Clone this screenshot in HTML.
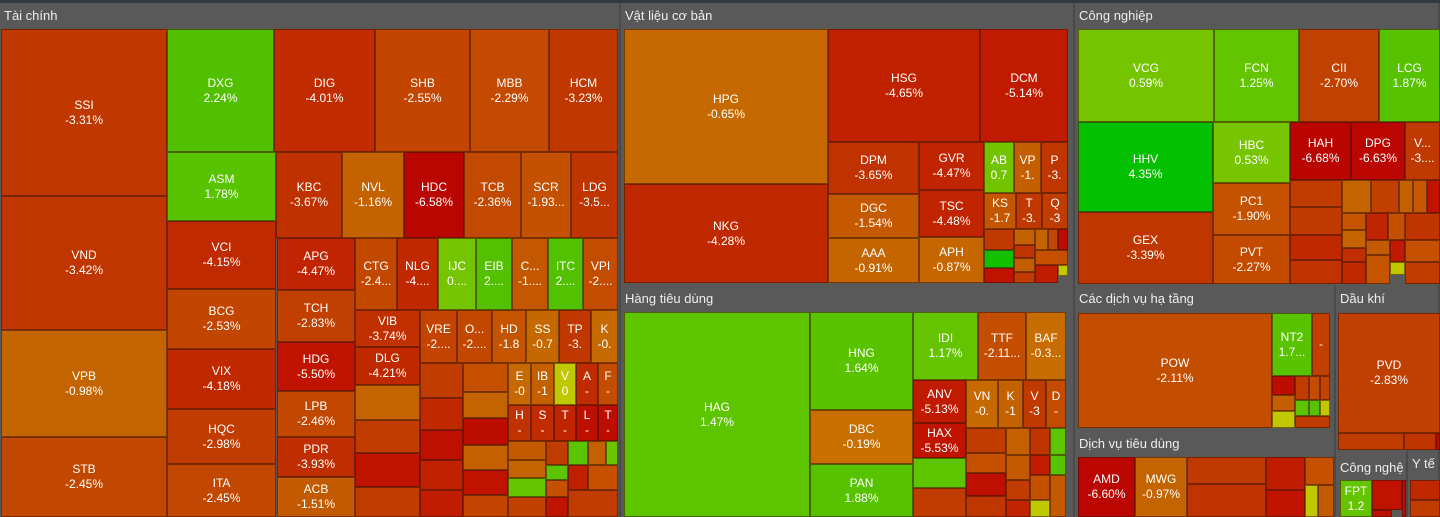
<!DOCTYPE html>
<html><head><meta charset="utf-8">
<style>
html,body{margin:0;padding:0}
body{width:1440px;height:517px;position:relative;overflow:hidden;background:#595959;font-family:"Liberation Sans",sans-serif}
#topbar{position:absolute;left:0;top:0;width:1440px;height:3px;background:#2f3a44}
.sec{position:absolute;background:#595959;border-right:2px solid #4a4a4a;box-sizing:border-box}
.hdr{position:absolute;color:#eee;font-size:13px;line-height:14px;white-space:nowrap;overflow:hidden}
.t{position:absolute;box-sizing:border-box;border:1px solid rgba(60,20,0,.55);color:#fff;font-size:12px;line-height:15px;text-align:center;display:flex;flex-direction:column;justify-content:center;overflow:hidden;white-space:nowrap}
</style></head><body>
<div id="topbar"></div>
<div id="root"></div>
<script>
const sectorNames=["Tài chính","Vật liệu cơ bản","Công nghiệp","Hàng tiêu dùng","Các dịch vụ hạ tầng","Dịch vụ tiêu dùng","Dầu khí","Công nghệ","Y tế"];
const sectorBoxes=[[0,3,621,517],[621,3,1075,286],[1075,3,1440,286],[621,286,1075,517],[1075,286,1336,431],[1075,431,1336,517],[1336,286,1440,451],[1336,451,1408,517],[1408,451,1440,517]];
const tiles=[
["SSI","-3.31%",-3.31,1,29,167,196],["VND","-3.42%",-3.42,1,196,167,330],["VPB","-0.98%",-0.98,1,330,167,437],["STB","-2.45%",-2.45,1,437,167,517],
["DXG","2.24%",2.24,167,29,274,152],["ASM","1.78%",1.78,167,152,276,221],["VCI","-4.15%",-4.15,167,221,276,289],["BCG","-2.53%",-2.53,167,289,276,349],["VIX","-4.18%",-4.18,167,349,276,409],["HQC","-2.98%",-2.98,167,409,276,464],["ITA","-2.45%",-2.45,167,464,276,517],
["DIG","-4.01%",-4.01,274,29,375,152],["SHB","-2.55%",-2.55,375,29,470,152],["MBB","-2.29%",-2.29,470,29,549,152],["HCM","-3.23%",-3.23,549,29,618,152],
["KBC","-3.67%",-3.67,276,152,342,238],["NVL","-1.16%",-1.16,342,152,404,238],["HDC","-6.58%",-6.58,404,152,464,238],["TCB","-2.36%",-2.36,464,152,521,238],["SCR","-1.93...",-1.93,521,152,571,238],["LDG","-3.5...",-3.5,571,152,618,238],
["APG","-4.47%",-4.47,277,238,355,290],["TCH","-2.83%",-2.83,277,290,355,342],["HDG","-5.50%",-5.5,277,342,355,391],["LPB","-2.46%",-2.46,277,391,355,437],["PDR","-3.93%",-3.93,277,437,355,477],["ACB","-1.51%",-1.51,277,477,355,517],
["CTG","-2.4...",-2.4,355,238,397,310],["NLG","-4....",-4.2,397,238,438,310],["IJC","0....",0.6,438,238,476,310],["EIB","2....",2.1,476,238,512,310],["C...","-1....",-1.6,512,238,548,310],["ITC","2....",2.2,548,238,583,310],["VPI","-2....",-2.2,583,238,618,310],
["VIB","-3.74%",-3.74,355,310,420,347],["DLG","-4.21%",-4.21,355,347,420,385],
["","",-1.0,355,385,420,420],["","",-3.0,355,420,420,453],["","",-5.6,355,453,420,487],["","",-3.0,355,487,420,517],
["VRE","-2....",-2.6,420,310,457,363],["O...","-2....",-2.4,457,310,492,363],["HD","-1.8",-1.8,492,310,526,363],["SS","-0.7",-0.7,526,310,559,363],["TP","-3.",-3.3,559,310,591,363],["K","-0.",-0.6,591,310,618,363],
["","",-3.0,420,363,463,398],["","",-4.2,420,398,463,430],["","",-5.8,420,430,463,460],["","",-4.6,420,460,463,490],["","",-5.0,420,490,463,517],
["","",-2.0,463,363,508,392],["","",-1.0,463,392,508,418],["","",-6.0,463,418,508,445],["","",-1.2,463,445,508,470],["","",-5.6,463,470,508,495],["","",-2.6,463,495,508,517],
["E","-0",-0.6,508,363,531,405],["IB","-1",-1.2,531,363,554,405],["V","0",0.05,554,363,576,405],["A","-",-4.0,576,363,598,405],["F","-",-2.2,598,363,618,405],
["H","-",-3.6,508,405,531,441],["S","-",-4.0,531,405,554,441],["T","-",-4.5,554,405,576,441],["L","-",-5.8,576,405,598,441],["T","-",-6.0,598,405,618,441],
["","",-1.5,508,441,546,460],["","",-1.0,508,460,546,478],["","",1.2,508,478,546,497],["","",-2.8,508,497,546,517],
["","",-3.0,546,441,568,465],["","",1.5,546,465,568,480],["","",-2.0,546,480,568,497],["","",-5.5,546,497,568,517],
["","",1.6,568,441,588,465],["","",-1.2,588,441,606,465],["","",1.0,606,441,618,465],["","",-4.8,568,465,588,490],["","",-2.0,588,465,618,490],["","",-3.0,568,490,618,517],
["HPG","-0.65%",-0.65,624,29,828,184],["NKG","-4.28%",-4.28,624,184,828,283],["HSG","-4.65%",-4.65,828,29,980,142],["DCM","-5.14%",-5.14,980,29,1068,142],
["DPM","-3.65%",-3.65,828,142,919,194],["DGC","-1.54%",-1.54,828,194,919,238],["AAA","-0.91%",-0.91,828,238,919,283],
["GVR","-4.47%",-4.47,919,142,984,190],["TSC","-4.48%",-4.48,919,190,984,237],["APH","-0.87%",-0.87,919,237,984,283],
["AB","0.7",0.7,984,142,1014,193],["VP","-1.",-1.3,1014,142,1041,193],["P","-3.",-3.4,1041,142,1068,193],
["KS","-1.7",-1.7,984,193,1016,229],["T","-3.",-3.3,1016,193,1042,229],["Q","-3",-3.0,1042,193,1068,229],
["","",-3.2,984,229,1014,250],["","",4.0,984,250,1014,268],["","",-5.6,984,268,1014,283],["","",-1.2,1014,229,1035,245],["","",-3.5,1014,245,1035,258],["","",-1.4,1014,258,1035,272],["","",-3.0,1014,272,1035,283],["","",-1.0,1035,229,1048,250],["","",-2.5,1048,229,1058,250],["","",-6.0,1058,229,1068,250],["","",-2.0,1035,250,1068,265],["","",0.05,1058,265,1068,276],["","",-5.0,1035,265,1058,283],
["VCG","0.59%",0.59,1078,29,1214,122],["FCN","1.25%",1.25,1214,29,1299,122],["CII","-2.70%",-2.7,1299,29,1379,122],["LCG","1.87%",1.87,1379,29,1440,122],
["HHV","4.35%",4.35,1078,122,1213,212],["GEX","-3.39%",-3.39,1078,212,1213,284],
["HBC","0.53%",0.53,1213,122,1290,183],["PC1","-1.90%",-1.9,1213,183,1290,235],["PVT","-2.27%",-2.27,1213,235,1290,284],
["HAH","-6.68%",-6.68,1290,122,1351,180],["DPG","-6.63%",-6.63,1351,122,1405,180],["V...","-3....",-3.2,1405,122,1440,180],
["","",-3.0,1290,180,1342,207],["","",-3.2,1290,207,1342,235],["","",-4.2,1290,235,1342,260],["","",-3.6,1290,260,1342,284],
["","",-1.0,1342,180,1371,213],["","",-2.8,1371,180,1399,213],["","",-1.2,1399,180,1413,213],["","",-1.6,1413,180,1427,213],["","",-5.5,1427,180,1440,213],
["","",-1.8,1342,213,1366,230],["","",-1.0,1342,230,1366,248],["","",-3.8,1342,248,1366,262],["","",-4.2,1342,262,1366,284],["","",-4.5,1366,213,1388,240],["","",-2.0,1388,213,1405,240],["","",-3.5,1405,213,1440,240],
["","",-1.5,1366,240,1390,255],["","",-5.2,1390,240,1405,262],["","",-2.0,1405,240,1440,262],["","",-1.8,1366,255,1390,284],["","",0.05,1390,262,1405,275],["","",-3.0,1405,262,1440,284],
["HAG","1.47%",1.47,624,312,810,517],["HNG","1.64%",1.64,810,312,913,410],["DBC","-0.19%",-0.19,810,410,913,464],["PAN","1.88%",1.88,810,464,913,517],
["IDI","1.17%",1.17,913,312,978,380],["TTF","-2.11...",-2.11,978,312,1026,380],["BAF","-0.3...",-0.35,1026,312,1066,380],
["ANV","-5.13%",-5.13,913,380,966,423],["HAX","-5.53%",-5.53,913,423,966,458],["","",1.4,913,458,966,488],["","",-3.0,913,488,966,517],
["VN","-0.",-0.6,966,380,998,428],["K","-1",-1.1,998,380,1023,428],["V","-3",-3.2,1023,380,1046,428],["D","-",-2.2,1046,380,1066,428],
["","",-3.0,966,428,1006,453],["","",-2.0,966,453,1006,473],["","",-5.8,966,473,1006,496],["","",-3.4,966,496,1006,517],
["","",-1.2,1006,428,1030,455],["","",-1.5,1006,455,1030,480],["","",-3.5,1030,428,1050,455],["","",1.5,1050,428,1066,455],["","",-5.0,1030,455,1050,475],["","",1.8,1050,455,1066,475],["","",-3.0,1006,480,1030,500],["","",-4.5,1006,500,1030,517],["","",-2.0,1030,475,1050,500],["","",0.05,1030,500,1050,517],["","",-1.5,1050,475,1066,517],
["POW","-2.11%",-2.11,1078,313,1272,428],["NT2","1.7...",1.7,1272,313,1312,376],["","-",-2.8,1312,313,1330,376],
["","",-6.0,1272,376,1295,395],["","",-1.3,1272,395,1295,411],["","",0.05,1272,411,1295,428],["","",-3.0,1295,376,1309,400],["","",-2.2,1309,376,1320,400],["","",-2.6,1320,376,1330,400],["","",1.5,1295,400,1309,416],["","",1.8,1309,400,1320,416],["","",0.05,1320,400,1330,416],["","",-3,1295,416,1330,428],
["AMD","-6.60%",-6.6,1078,457,1135,517],["MWG","-0.97%",-0.97,1135,457,1187,517],["","",-3.2,1187,457,1266,484],["","",-3.6,1187,484,1266,517],["","",-5.0,1266,457,1305,490],["","",-5.5,1266,490,1305,517],["","",-2.0,1305,457,1334,485],["","",0.05,1305,485,1318,517],["","",-1.5,1318,485,1334,517],
["PVD","-2.83%",-2.83,1338,313,1440,433],["","",-3.0,1338,433,1404,450],["","",-3.5,1404,433,1436,450],["","",-6,1436,433,1440,450],
["FPT","1.2",1.2,1340,480,1372,517],["","",-5.6,1372,480,1402,510],["","",-6.2,1402,480,1406,517],["","",-5.8,1372,510,1392,517],
["","",-4.2,1410,480,1440,500],["","",-3.0,1410,500,1440,517]
];
const stops=[[-7,[184,0,0]],[-5.5,[192,20,0]],[-4,[192,44,0]],[-3,[192,60,0]],[-2,[196,80,0]],[-1,[196,100,0]],[-0.1,[200,112,0]],[0,[200,200,0]],[0.5,[120,196,0]],[1.5,[92,196,0]],[2.3,[80,192,0]],[4.5,[0,192,0]]];
function col(p){if(p<=stops[0][0])return 'rgb('+stops[0][1]+')';for(let i=1;i<stops.length;i++){if(p<=stops[i][0]){const a=stops[i-1],b=stops[i],f=(p-a[0])/(b[0]-a[0]);return 'rgb('+a[1].map((v,k)=>Math.round(v+(b[1][k]-v)*f)).join(',')+')';}}return 'rgb('+stops[stops.length-1][1]+')';}
const root=document.getElementById('root');
sectorNames.forEach((n,i)=>{const b=sectorBoxes[i];const s=document.createElement('div');s.className='sec';


s.style.cssText=`left:${b[0]}px;top:${b[1]}px;width:${b[2]-b[0]}px;height:${b[3]-b[1]}px`;
const h=document.createElement('div');h.className='hdr';h.textContent=n;


h.style.cssText=`left:4px;top:${i==7?10:6}px;width:${b[2]-b[0]-6}px`;s.appendChild(h);root.appendChild(s);});
tiles.forEach(t=>{const d=document.createElement('div');d.className='t';


const x1=Math.min(t[3],t[5]),x2=Math.max(t[3],t[5]);
d.style.cssText=`left:${x1}px;top:${t[4]}px;width:${x2-x1}px;height:${t[6]-t[4]}px;background:${col(t[2])}`;
if(t[0]||t[1])d.innerHTML='<div>'+t[0]+'</div><div>'+t[1]+'</div>';root.appendChild(d);});
</script>
</body></html>
